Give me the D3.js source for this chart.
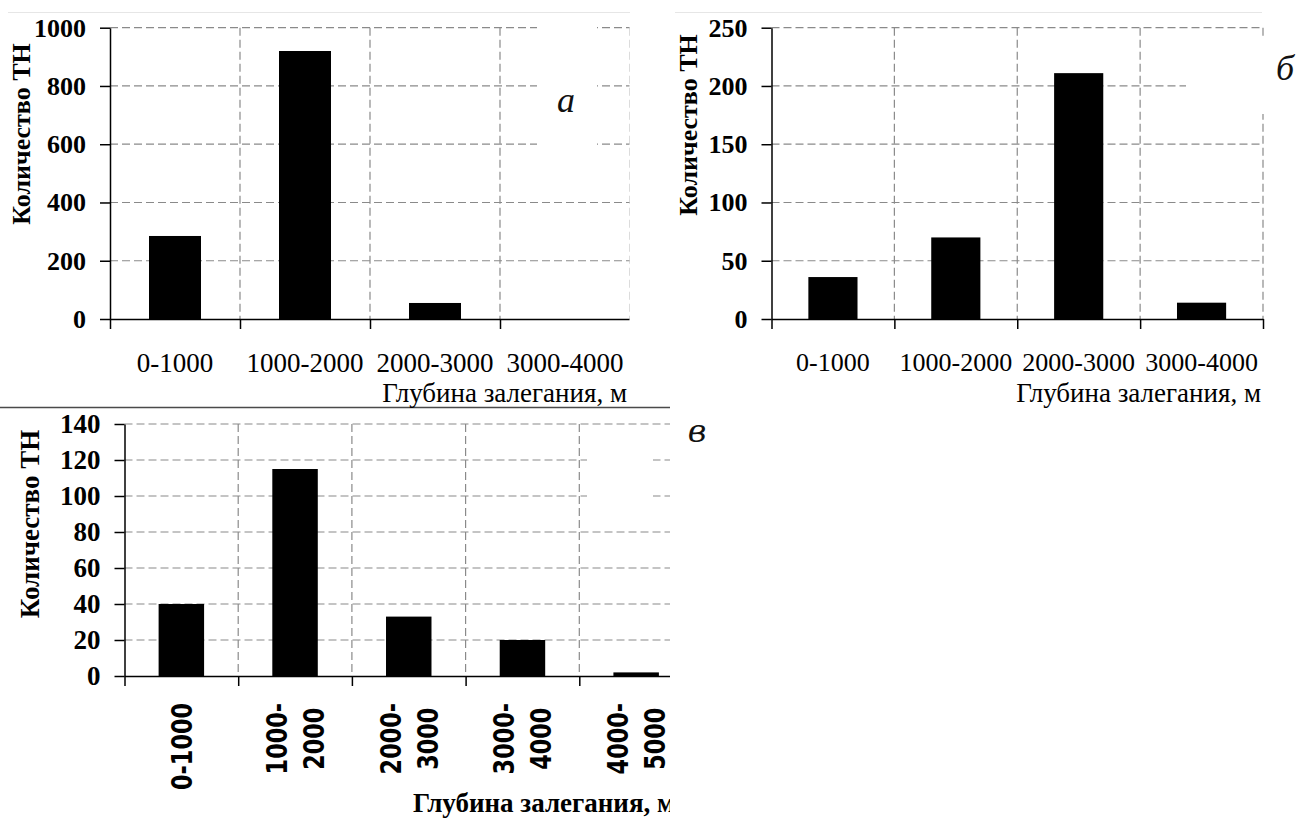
<!DOCTYPE html>
<html>
<head>
<meta charset="utf-8">
<script src="https://cdn.jsdelivr.net/npm/d3@7"></script>
<style>
  body { margin: 0; background: #fff; }
  svg { display: block; }
  .serif { font-family: "Liberation Serif", "Times New Roman", "DejaVu Serif", serif; }
  .sans { font-family: "DejaVu Sans", Verdana, sans-serif; }
  .dserif { font-family: "DejaVu Serif", "Liberation Serif", serif; }
</style>
</head>
<body>
<svg id="chart" width="1300" height="821"></svg>
<script>
// ---- data ----
const aCategories = ["0-1000", "1000-2000", "2000-3000", "3000-4000"];
const aValues = [285, 920, 55, 0];
const aTicks = [0, 200, 400, 600, 800, 1000];

const bCategories = ["0-1000", "1000-2000", "2000-3000", "3000-4000"];
const bValues = [36, 70, 211, 14];
const bTicks = [0, 50, 100, 150, 200, 250];

const cCategories = ["0-1000", "1000-2000", "2000-3000", "3000-4000", "4000-5000"];
const cLabelLines = [["0-1000"], ["1000-", "2000"], ["2000-", "3000"], ["3000-", "4000"], ["4000-", "5000"]];
const cValues = [40, 115, 33, 20, 2];
const cTicks = [0, 20, 40, 60, 80, 100, 120, 140];

const yTitle = "Количество ТН";
const xTitle = "Глубина залегания, м";
const panelLetters = ["а", "б", "в"];

// ---- drawing ----
const GRID = "#8a8a8a";

const svg = d3.select("#chart");
const defs = svg.append("defs");
svg.append("rect").attr("width", 1300).attr("height", 821).attr("fill", "#fff");

// thin frame lines around the upper pair and above the lower panel
svg.append("line").attr("x1", 8).attr("x2", 630).attr("y1", 12.5).attr("y2", 12.5)
  .attr("stroke", "#e6e6e6").attr("stroke-width", 1);
svg.append("line").attr("x1", 675).attr("x2", 1262).attr("y1", 12.5).attr("y2", 12.5)
  .attr("stroke", "#e6e6e6").attr("stroke-width", 1);
svg.append("line").attr("x1", 0).attr("x2", 670).attr("y1", 407.5).attr("y2", 407.5)
  .attr("stroke", "#4a4a4a").attr("stroke-width", 1.5);

function drawPanel(p, idx) {
  const g = svg.append("g");
  if (p.clipX != null) {
    defs.append("clipPath").attr("id", "clip" + idx)
      .append("rect").attr("x", 0).attr("y", 0).attr("width", p.clipX).attr("height", 821);
    g.attr("clip-path", `url(#clip${idx})`);
  }
  const n = p.categories.length;
  const x = d3.scaleBand().domain(p.categories).range([p.x0, p.x1])
    .paddingInner(0.6).paddingOuter(0.3);
  const edge = d3.scaleLinear().domain([0, n]).range([p.x0, p.x1]);
  const y = d3.scaleLinear().domain([0, d3.max(p.ticks)]).range([p.y0, p.yTop]);

  // dashed grid
  const grid = g.append("g").attr("stroke", GRID).attr("stroke-width", 1.2)
    .attr("stroke-dasharray", "8,4").attr("fill", "none");
  grid.selectAll("line.h").data(p.ticks.filter(t => t > 0)).join("line").attr("class", "h")
    .attr("x1", p.x0).attr("x2", p.x1)
    .attr("y1", d => y(d)).attr("y2", d => y(d));
  grid.selectAll("line.v").data(d3.range(1, n + 1)).join("line").attr("class", "v")
    .attr("x1", d => edge(d)).attr("x2", d => edge(d))
    .attr("y1", p.yTop).attr("y2", p.y0);

  // blank area behind the panel letter
  g.append("rect").attr("x", p.box[0]).attr("y", p.box[1])
    .attr("width", p.box[2]).attr("height", p.box[3]).attr("fill", "#fff");

  // bars
  g.selectAll("rect.bar").data(p.values.map((v, i) => ({ c: p.categories[i], v })))
    .join("rect").attr("class", "bar")
    .attr("x", d => x(d.c)).attr("width", x.bandwidth())
    .attr("y", d => y(d.v)).attr("height", d => y(0) - y(d.v))
    .attr("fill", "#000");

  // y axis
  const ya = g.append("g").attr("transform", `translate(${p.x0},0)`)
    .call(d3.axisLeft(y).tickValues(p.ticks).tickSize(10).tickSizeOuter(0)
      .tickPadding(14).tickFormat(d3.format("d")));
  ya.attr("font-family", null).attr("font-size", null);
  ya.select(".domain").attr("stroke", "#000").attr("stroke-width", 1.5);
  ya.selectAll(".tick line").attr("stroke", "#000").attr("stroke-width", 1.5);
  ya.selectAll(".tick text").attr("class", "serif")
    .style("font-weight", "bold").style("font-size", p.tickFont + "px").attr("fill", "#000");

  // x axis (ticks on category boundaries)
  const xa = g.append("g").attr("transform", `translate(0,${p.y0})`)
    .call(d3.axisBottom(edge).tickValues(d3.range(n + 1)).tickSize(10)
      .tickSizeOuter(0).tickFormat(() => ""));
  xa.select(".domain").attr("stroke", "#000").attr("stroke-width", 1.5);
  xa.selectAll(".tick line").attr("stroke", "#000").attr("stroke-width", 1.5);

  // category labels
  if (!p.rotated) {
    g.selectAll("text.cat").data(p.categories).join("text").attr("class", "cat serif")
      .attr("x", d => x(d) + x.bandwidth() / 2).attr("y", p.labelY)
      .attr("text-anchor", "middle").style("font-size", p.catFont + "px")
      .attr("fill", "#000").text(d => d);
  } else {
    p.categories.forEach((c, i) => {
      const lines = p.labelLines[i];
      const cx = x(c) + x.bandwidth() / 2;
      const grp = g.append("g");
      const texts = lines.map(t => grp.append("text").attr("class", "sans")
        .style("font-weight", "bold").style("font-size", "29px").attr("fill", "#000")
        .attr("text-anchor", "middle").attr("dy", "0.36em").text(t));
      const len = d3.max(texts, t => t.node().getComputedTextLength()) * p.alongScale;
      const yc = p.labelTop + len / 2;
      texts.forEach((t, k) => {
        const lx = cx + (k - (lines.length - 1) / 2) * p.lineGap;
        t.attr("transform", `translate(${lx},${yc}) rotate(-90) scale(${p.alongScale},1)`);
      });
    });
  }

  // axis titles
  g.append("text").attr("class", "serif").attr("x", p.xTitleX).attr("y", p.xTitleY)
    .attr("text-anchor", p.xTitleAnchor)
    .style("font-weight", p.xTitleWeight).style("font-size", "27px").attr("fill", "#000")
    .text(xTitle);
  g.append("text").attr("class", "serif")
    .attr("transform", `translate(${p.yTitleX},${p.yTitleY}) rotate(-90)`)
    .attr("text-anchor", "middle").attr("dy", "0.35em")
    .style("font-weight", "bold").style("font-size", p.yTitleFont + "px")
    .attr("fill", "#000").text(yTitle);

  // panel letter
  svg.append("text").attr("class", p.letterClass).attr("x", p.letterX).attr("y", p.letterY)
    .attr("text-anchor", "middle")
    .style("font-style", "italic").style("font-size", p.letterSize + "px").attr("fill", "#111")
    .text(panelLetters[idx]);
}

const panels = [
  {
    categories: aCategories, values: aValues, ticks: aTicks,
    x0: 110, x1: 630, yTop: 27.7, y0: 319, clipX: 629.5,
    box: [537, 18, 60, 132], tickFont: 26, labelY: 372, catFont: 27,
    xTitleX: 627, xTitleY: 402, xTitleAnchor: "end", xTitleWeight: "normal",
    yTitleX: 20.5, yTitleY: 134, yTitleFont: 26,
    letterX: 566, letterY: 112, letterSize: 36, letterClass: "serif"
  },
  {
    categories: bCategories, values: bValues, ticks: bTicks,
    x0: 771.5, x1: 1263, yTop: 27.7, y0: 319, clipX: null,
    box: [1186, 36, 114, 78], tickFont: 26, labelY: 371, catFont: 26,
    xTitleX: 1261, xTitleY: 402, xTitleAnchor: "end", xTitleWeight: "normal",
    yTitleX: 687.5, yTitleY: 125, yTitleFont: 26,
    letterX: 1285, letterY: 80, letterSize: 36, letterClass: "serif"
  },
  {
    categories: cCategories, values: cValues, ticks: cTicks, labelLines: cLabelLines,
    x0: 124.5, x1: 693, yTop: 424, y0: 676, clipX: 670,
    box: [587, 430, 66, 84], tickFont: 27, rotated: true,
    alongScale: 0.77, lineGap: 37, labelTop: 703,
    xTitleX: 413, xTitleY: 812, xTitleAnchor: "start", xTitleWeight: "bold",
    yTitleX: 30, yTitleY: 524, yTitleFont: 27,
    letterX: 697, letterY: 442, letterSize: 32, letterClass: "dserif"
  }
];

panels.forEach((p, i) => drawPanel(p, i));
</script>
</body>
</html>
